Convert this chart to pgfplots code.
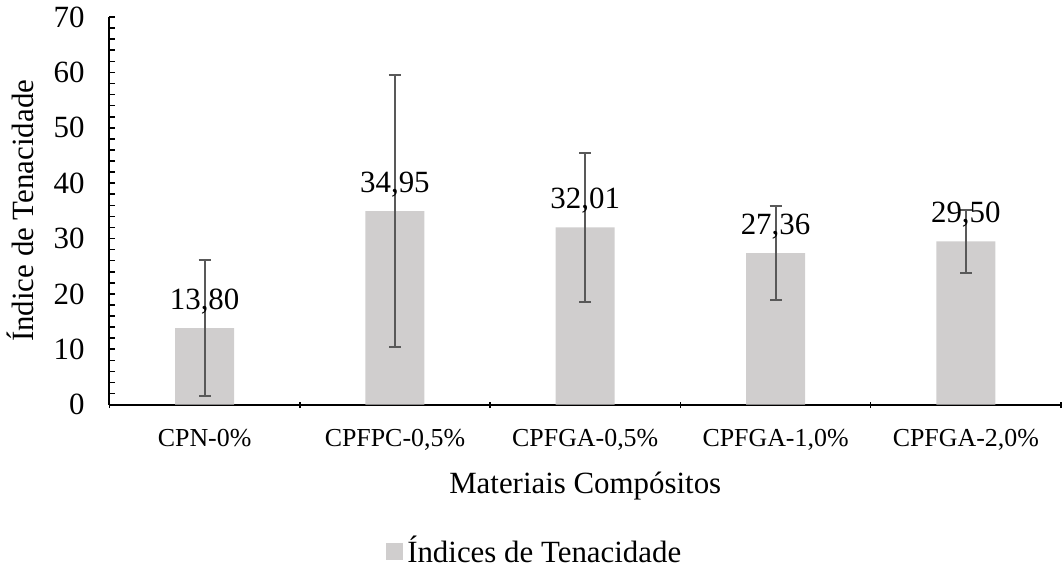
\documentclass[border=0pt]{standalone}
\usepackage{pgfplots}
\pgfplotsset{compat=1.18}
\usepackage{fontspec}
\setmainfont{Liberation Serif}
\definecolor{barfill}{HTML}{D0CECE}
\definecolor{errgray}{HTML}{595959}
\pgfplotsset{/pgf/number format/assume math mode=true}

\begin{document}
\begin{tikzpicture}
\begin{axis}[
    scale only axis,
    width=477.5pt, height=194.5pt,
    ybar, bar width=0.31,
    xmin=-0.5, xmax=4.5, ymin=0, ymax=70,
    axis x line=bottom, axis y line=left,
    axis line style={-, line width=1pt},
    tick align=inside,
    major tick length=3pt, minor tick length=3pt,
    every tick/.style={black, line width=0.8pt},
    xtick={0,...,4},
    xticklabels={{CPN-0\%}, {CPFPC-0,5\%}, {CPFGA-0,5\%}, {CPFGA-1,0\%}, {CPFGA-2,0\%}},
    major x tick style={draw=none},
    minor xtick={-0.5,0.5,...,4.5},
    minor x tick style={yshift=-1.75pt},
    ytick={0,10,...,70},
    minor y tick num=4,
    yticklabel style={font=\fontsize{15.5}{18}\selectfont, xshift=-9pt},
    xticklabel style={font=\fontsize{13}{16}\selectfont, yshift=-9pt},
    xlabel={Materiais Compósitos},
    ylabel={Índice de Tenacidade},
    xlabel style={font=\fontsize{15.5}{18}\selectfont, at={(axis description cs:0.5,-0.21)}, anchor=center},
    ylabel style={font=\fontsize{15.5}{18}\selectfont, at={(axis description cs:-0.094,0.5)}, anchor=center},
    nodes near coords,
    nodes near coords style={font=\fontsize{15.5}{18}\selectfont, anchor=base, inner sep=0pt, yshift=9.5pt,
        /pgf/number format/.cd, fixed, precision=2, fixed zerofill, use comma},
    legend style={draw=none, at={(axis description cs:0.448,-0.378)}, anchor=center,
        font=\fontsize{15.5}{18}\selectfont},
    legend image code/.code={\fill[barfill] (0pt,-4.25pt) rectangle (8.5pt,4.25pt);},
]
\addplot[fill=barfill, draw=none,
    error bars/.cd, y dir=both, y explicit,
    error bar style={errgray, line width=1pt},
    error mark options={errgray, rotate=90, mark size=3pt, line width=1pt}]
    coordinates {
    (0,13.80) +- (0,12.3)
    (1,34.95) +- (0,24.5)
    (2,32.01) +- (0,13.4)
    (3,27.36) +- (0,8.5)
    (4,29.50) +- (0,5.7)
};
\addlegendentry{Índices de Tenacidade}
\end{axis}
\end{tikzpicture}
\end{document}
